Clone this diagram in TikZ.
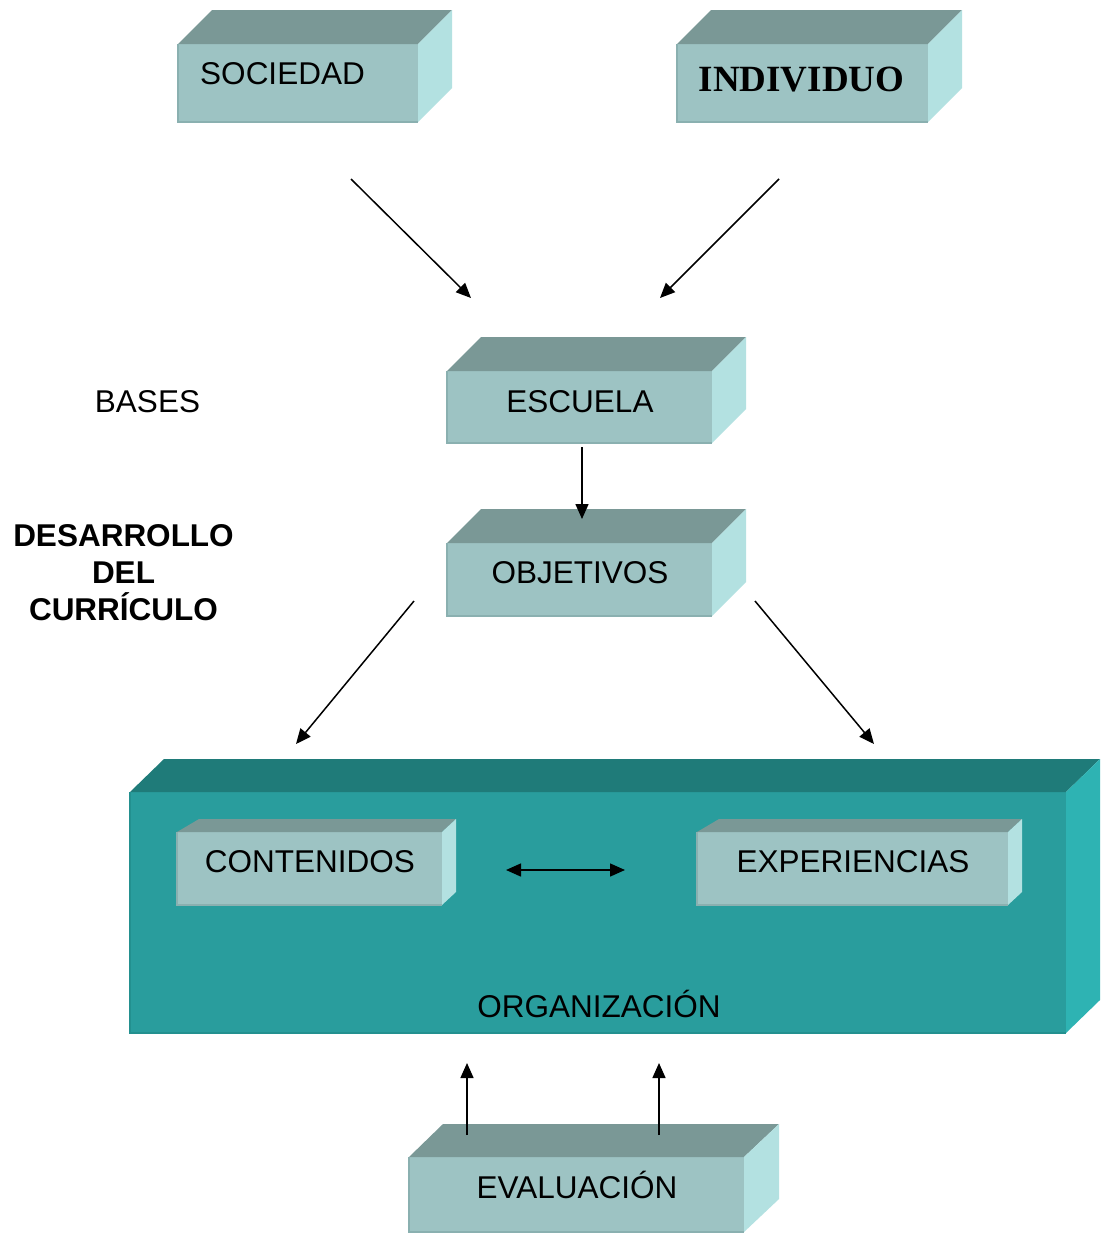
\documentclass[tikz,border=0pt]{standalone}
\usepackage{fontspec}
\setmainfont{Liberation Sans}
\newfontfamily\timesf{Liberation Serif}
\usetikzlibrary{arrows.meta}
\definecolor{frontc}{HTML}{9DC3C3}
\definecolor{topc}{HTML}{7A9896}
\definecolor{sidec}{HTML}{B3E1E1}
\definecolor{edgec}{HTML}{8AB0B0}
\definecolor{bfront}{HTML}{299D9D}
\definecolor{btop}{HTML}{1F7B79}
\definecolor{bside}{HTML}{2EB3B3}
\definecolor{bedge}{HTML}{23908F}
\newcommand\myboxfaces[6]{%
  % #1 node, #2 top/side colour, #3 side colour, #4 left dx, #5 right dx, #6 dy
  \fill[#2] (#1.north west) -- ++(#4,-#6) -- ([shift={(#5,-#6)}]#1.north east) -- (#1.north east) -- cycle;
  \fill[#3] (#1.north east) -- ([shift={(#5,-#6)}]#1.north east) -- ([shift={(#5,-#6)}]#1.south east) -- (#1.south east) -- cycle;
}
\begin{document}
\begin{tikzpicture}[x=1pt,y=-1pt,
  face/.style={draw=none, inner sep=0pt, outer sep=0pt, rectangle, fill=frontc},
  lbl/.style={font=\fontsize{31.5}{37}\selectfont, inner sep=0pt, anchor=base},
  blbl/.style={font=\fontsize{31.5}{37}\selectfont\bfseries, inner sep=0pt, anchor=base},
  arr/.style={-{Triangle[length=15pt,width=13pt]}, line width=1.5pt},
  darr/.style={{Triangle[length=15pt,width=13pt]}-{Triangle[length=15pt,width=13pt]}, line width=1.5pt},
]
\useasboundingbox (0,0) rectangle (1104,1237);
\fill[white] (0,0) rectangle (1104,1237);

% SOCIEDAD
\node[face, minimum width=240pt, minimum height=78pt] (soc) at (298,83) {};
\myboxfaces{soc}{topc}{sidec}{34}{34}{34}
\draw[edgec, line width=2pt] (soc.north west) -- (soc.south west) -- (soc.south east);
\node[lbl] (soct) at (282.5,84) {SOCIEDAD};

% INDIVIDUO
\node[face, minimum width=251pt, minimum height=78pt] (ind) at (802.5,83) {};
\myboxfaces{ind}{topc}{sidec}{34}{34}{34}
\draw[edgec, line width=2pt] (ind.north west) -- (ind.south west) -- (ind.south east);
\node[inner sep=0pt, anchor=base, font=\fontsize{37}{42}\selectfont\timesf\bfseries] (indt) at (801.5,91) {INDIVIDUO};

% ESCUELA
\node[face, minimum width=265pt, minimum height=72pt] (esc) at (579.5,407) {};
\myboxfaces{esc}{topc}{sidec}{34}{34}{34}
\draw[edgec, line width=2pt] (esc.north west) -- (esc.south west) -- (esc.south east);
\node[lbl] (esct) at (580,412) {ESCUELA};

% OBJETIVOS
\node[face, minimum width=265pt, minimum height=73pt] (obj) at (579.5,579.5) {};
\myboxfaces{obj}{topc}{sidec}{34}{34}{34}
\draw[edgec, line width=2pt] (obj.north west) -- (obj.south west) -- (obj.south east);
\node[lbl] (objt) at (580,583) {OBJETIVOS};

% ORGANIZACION big box
\node[face, fill=bfront, minimum width=936pt, minimum height=241pt] (org) at (598,912.5) {};
\myboxfaces{org}{btop}{bside}{34}{34}{33}
\draw[bedge, line width=2pt] (org.north west) -- (org.south west) -- (org.south east);
\node[lbl] (orgt) at (599,1017) {ORGANIZACIÓN};

% CONTENIDOS
\node[face, minimum width=265pt, minimum height=73pt] (con) at (309.5,868.5) {};
\myboxfaces{con}{topc}{sidec}{22}{14}{13}
\draw[edgec, line width=2pt] (con.north west) -- (con.south west) -- (con.south east);
\node[lbl] (cont) at (310,872) {CONTENIDOS};

% EXPERIENCIAS
\node[face, minimum width=311pt, minimum height=73pt] (exp) at (852.5,868.5) {};
\myboxfaces{exp}{topc}{sidec}{22}{14}{13}
\draw[edgec, line width=2pt] (exp.north west) -- (exp.south west) -- (exp.south east);
\node[lbl] (expt) at (853,872) {EXPERIENCIAS};

% EVALUACION
\node[face, minimum width=335pt, minimum height=75pt] (eva) at (576.5,1194.5) {};
\myboxfaces{eva}{topc}{sidec}{34}{35}{33}
\draw[edgec, line width=2pt] (eva.north west) -- (eva.south west) -- (eva.south east);
\node[lbl] (evat) at (577,1198) {EVALUACIÓN};

% side labels
\node[lbl] (bases) at (147.5,412) {BASES};
\node[blbl] (des1) at (123.5,546) {DESARROLLO};
\node[blbl] (des2) at (123.5,583) {DEL};
\node[blbl] (des3) at (123.5,620) {CURRÍCULO};

% arrow end points
\coordinate (a1s) at (351,179); \coordinate (a1e) at (471,298);
\coordinate (a2s) at (779,179); \coordinate (a2e) at (660,298);
\coordinate (a3s) at (582,447); \coordinate (a3e) at (582,519);
\coordinate (a4s) at (414,601); \coordinate (a4e) at (296,744);
\coordinate (a5s) at (755,601); \coordinate (a5e) at (874,744);
\coordinate (a6s) at (506,870); \coordinate (a6e) at (625,870);
\coordinate (a7s) at (467,1135); \coordinate (a7e) at (467,1063);
\coordinate (a8s) at (659,1135); \coordinate (a8e) at (659,1063);

\draw[arr] (a1s) -- (a1e);
\draw[arr] (a2s) -- (a2e);
\draw[arr] (a3s) -- (a3e);
\draw[arr] (a4s) -- (a4e);
\draw[arr] (a5s) -- (a5e);
\draw[darr] (a6s) -- (a6e);
\draw[arr] (a7s) -- (a7e);
\draw[arr] (a8s) -- (a8e);
\end{tikzpicture}
\end{document}
